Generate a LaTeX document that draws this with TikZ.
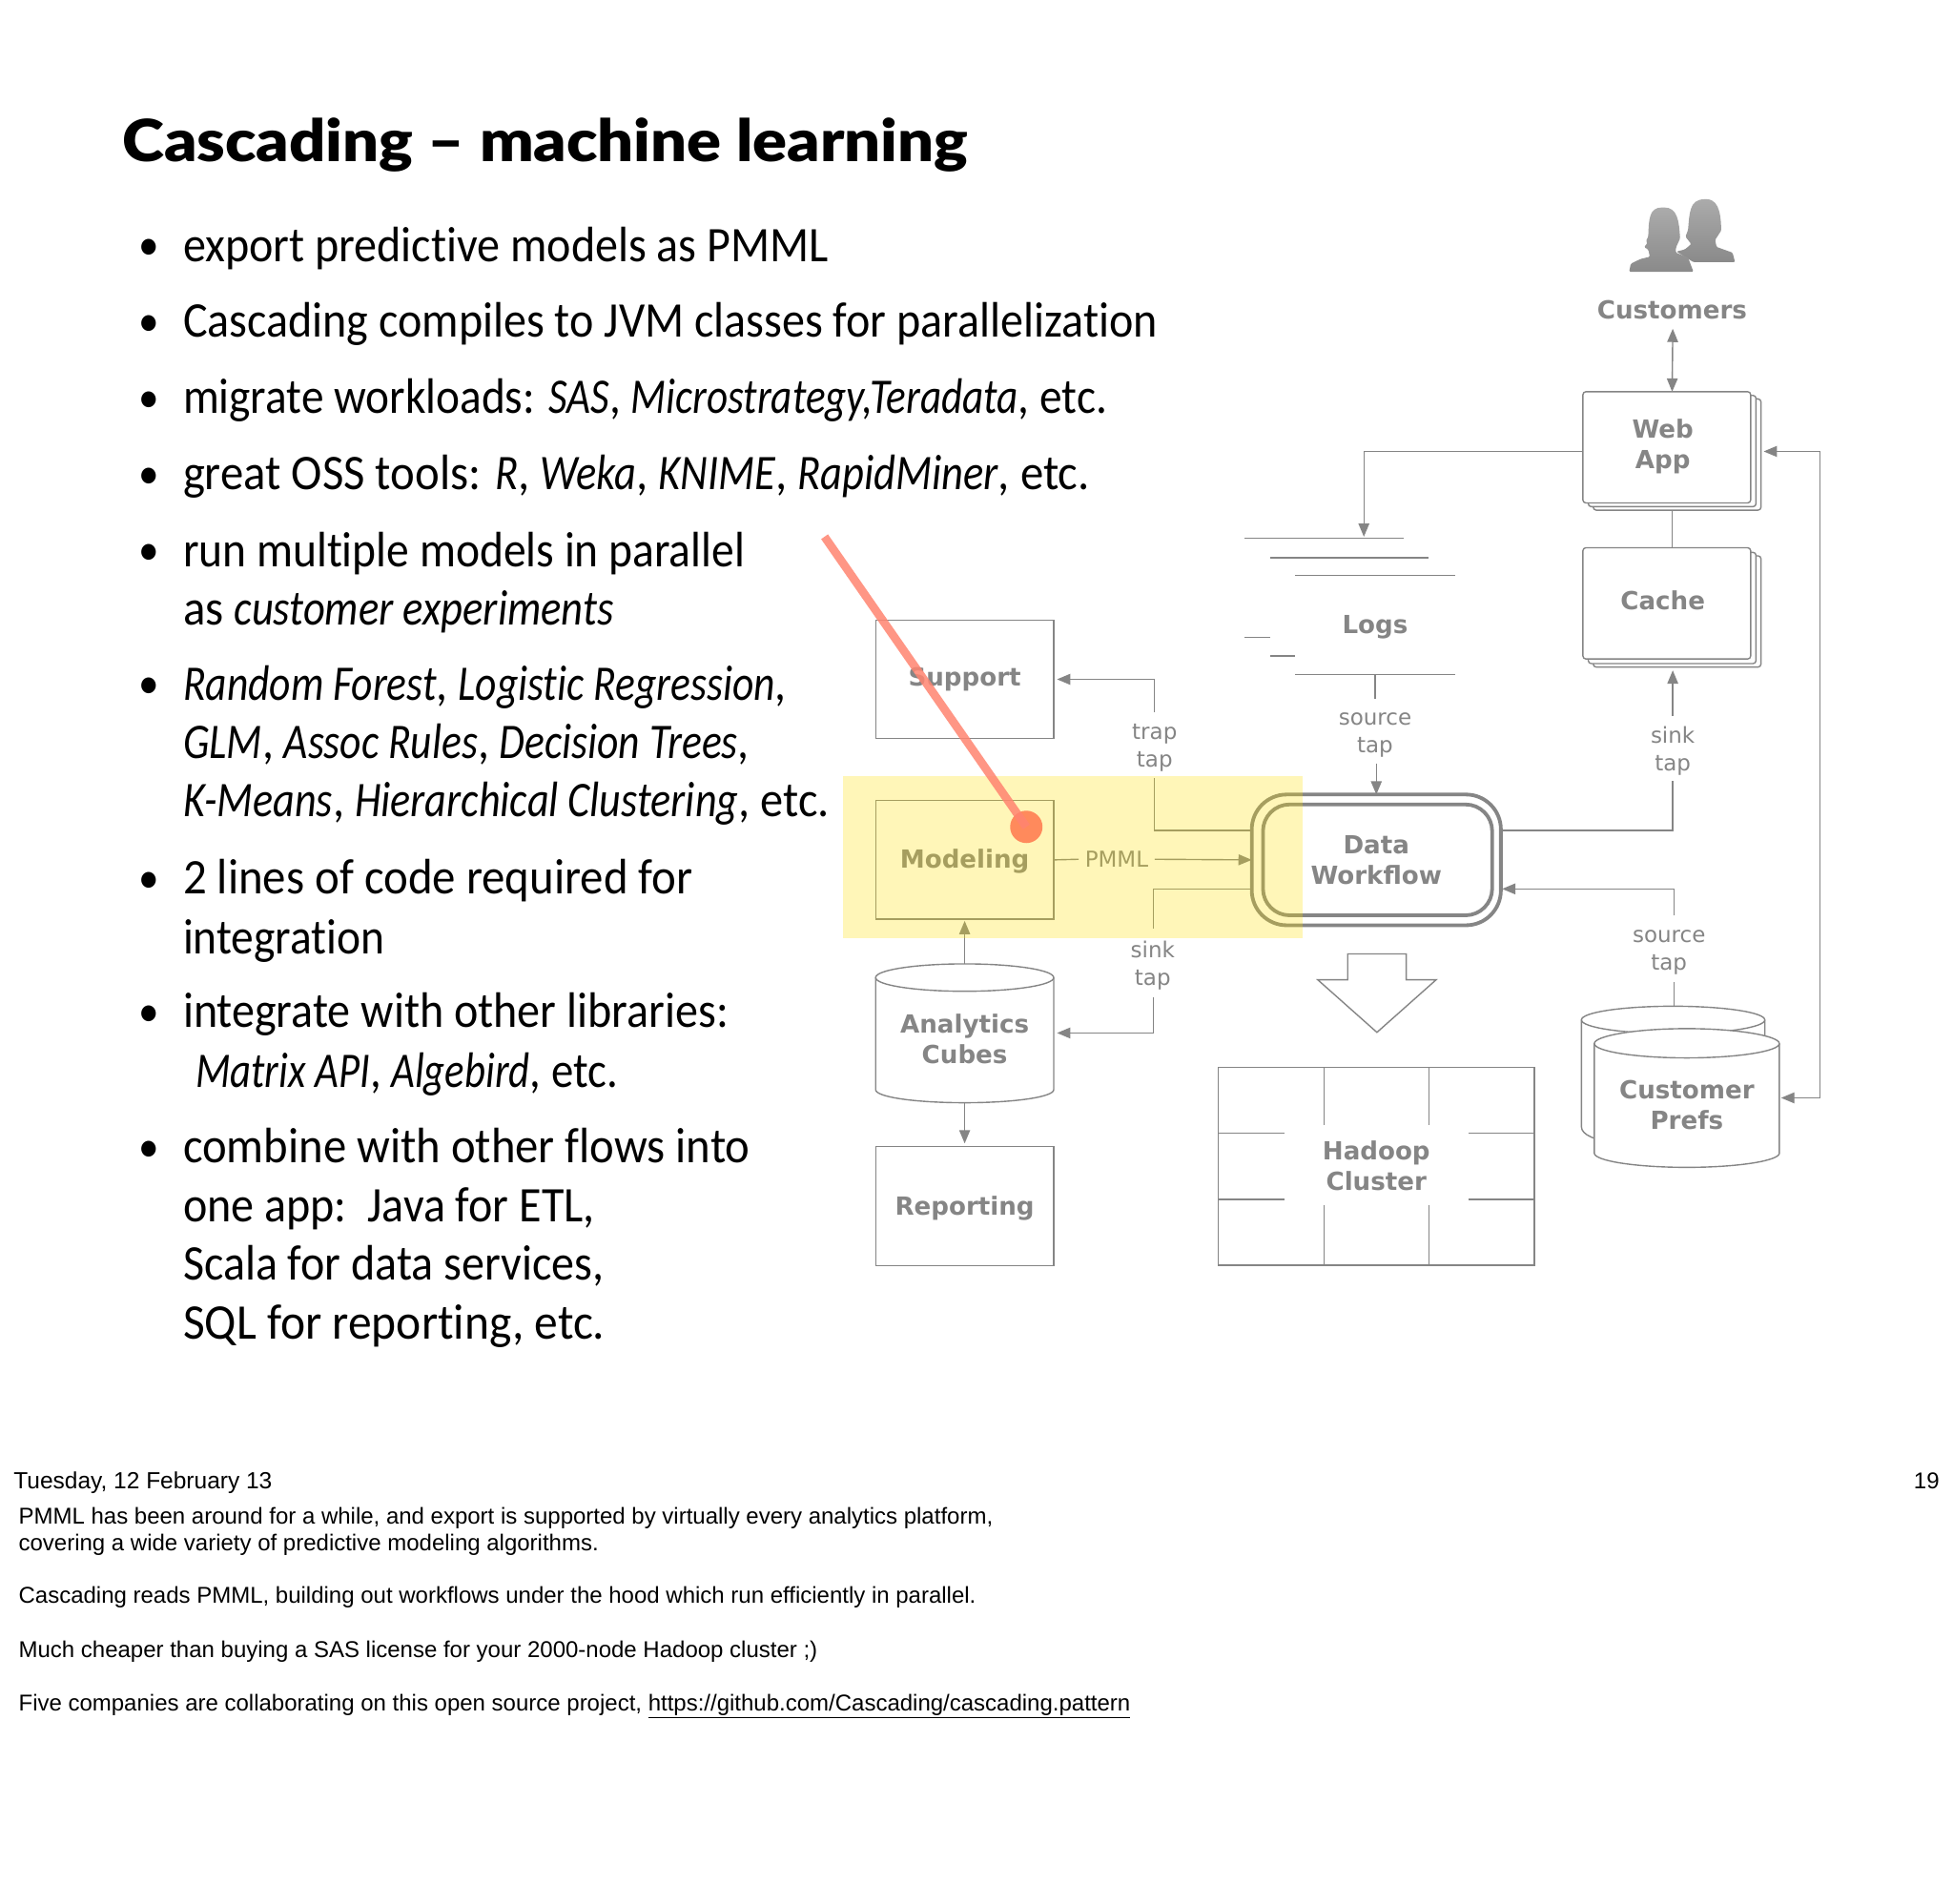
\documentclass[tikz,border=0pt]{standalone}
\usepackage{fontspec}
\usetikzlibrary{arrows.meta,calc}
\setmainfont{Carlito}[Ligatures=NoCommon,UprightFeatures={FakeStretch=0.92},ItalicFeatures={FakeStretch=0.84}]
\newfontfamily\djfont{DejaVu Sans}
\newfontfamily\helvfont{Liberation Sans}
\newfontfamily\titlefont{Lato Black}[FakeStretch=1.095]
\definecolor{dgray}{HTML}{858585}
\definecolor{overlayyellow}{HTML}{FFE100}
\definecolor{redline}{HTML}{FF8470}
\definecolor{reddot}{HTML}{FF8A5C}
\newcommand{\sx}[2]{\scalebox{#1}[1]{#2}}
\tikzset{
  x=0.75pt,y=-0.75pt,
  body/.style={anchor=base west,inner sep=0,outer sep=0,yshift=-0.75pt,font=\fontsize{30}{36}\selectfont,text=black},
  bull/.style={anchor=base,inner sep=0,font=\fontsize{27}{32}\selectfont,text=black},
  note/.style={anchor=base west,inner sep=0,outer sep=0,yshift=-0.5pt,font=\helvfont\fontsize{13.78}{16}\selectfont,text=black},
  boxlab/.style={font=\djfont\bfseries\fontsize{15}{18.4}\selectfont,text=dgray,align=center},
  box/.style={draw=dgray,line width=0.8pt,inner sep=0,outer sep=0,boxlab,minimum width=107.25pt,minimum height=71.5pt},
  plain/.style={inner sep=0,outer sep=0,boxlab},
  stack/.style={box,fill=white,rounded corners=1.8pt,minimum width=101pt,minimum height=67pt},
  taplab/.style={inner sep=0,outer sep=0,font=\djfont\fontsize{13.2}{16.7}\selectfont,text=dgray,align=center},
  conn/.style={draw=dgray,line width=0.8pt},
  arr/.style={conn,-{Triangle[length=8pt,width=6.5pt]}},
  darr/.style={conn,{Triangle[length=8pt,width=6.5pt]}-{Triangle[length=8pt,width=6.5pt]}},
  wf/.style={draw=dgray,line width=2.2pt,inner sep=0,outer sep=0},
  person/.style={top color=black!33,bottom color=black!46,draw=none,rounded corners=0.7pt},
}
\begin{document}
\begin{tikzpicture}
\useasboundingbox (0,0) rectangle (1568,1528.2);
\fill[white] (0,0) rectangle (1568,1528.2);

% title and bullets
\node[anchor=base west,inner sep=0,font=\titlefont\fontsize{35}{40}\selectfont] (title) at (98,130) {Cascading – machine learning};
\node[bull] (p1) at (120,209) {•};
\node[body] (b1) at (147,209) {export predictive models as PMML};
\node[bull] (p2) at (120,270) {•};
\node[body] (b2) at (147,270) {Cascading compiles to JVM classes for parallelization};
\node[bull] (p3) at (120,331) {•};
\node[body] (b3) at (147,331) {\sx{.984}{migrate workloads: \textit{SAS}, \textit{Microstrategy,Teradata}, etc.}};
\node[bull] (p4) at (120,392) {•};
\node[body] (b4) at (147,392) {\sx{1.014}{great OSS tools: \textit{R}, \textit{Weka}, \textit{KNIME}, \textit{RapidMiner}, etc.}};
\node[bull] (p5) at (120,454) {•};
\node[body] (b5) at (147,454) {\sx{.989}{run multiple models in parallel}};
\node[body] (b5b) at (147,501) {\sx{1.015}{as \textit{customer experiments}}};
\node[bull] (p6) at (120,561) {•};
\node[body] (b6) at (147,561) {\sx{.992}{\textit{Random Forest}, \textit{Logistic Regression},}};
\node[body] (b6b) at (147,608) {\sx{.993}{\textit{GLM}, \textit{Assoc Rules}, \textit{Decision Trees},}};
\node[body] (b6c) at (147,655) {\sx{1.006}{\textit{K-Means}, \textit{Hierarchical Clustering}, etc.}};
\node[bull] (p7) at (120,717) {•};
\node[body] (b7) at (147,717) {\sx{1.017}{2 lines of code required for}};
\node[body] (b7b) at (147,765) {\sx{.988}{integration}};
\node[bull] (p8) at (120,824) {•};
\node[body] (b8) at (147,824) {integrate with other libraries:};
\node[body] (b8b) at (157,872) {\sx{.974}{\textit{Matrix API}, \textit{Algebird}, etc.}};
\node[bull] (p9) at (120,933) {•};
\node[body] (b9) at (147,933) {\sx{1.013}{combine with other flows into}};
\node[body] (b9b) at (147,980) {one app:\ \ Java for ETL,};
\node[body] (b9c) at (147,1027) {Scala for data services,};
\node[body] (b9d) at (147,1074) {\sx{1.03}{SQL for reporting, etc.}};

% footer and notes
\node[note,font=\helvfont\fontsize{14.07}{16}\selectfont] (date) at (11,1195) {Tuesday, 12 February 13};
\node[note,anchor=base east] (page) at (1557,1195) {19};
\node[note] (n1) at (15,1223) {PMML has been around for a while, and export is supported by virtually every analytics platform,};
\node[note] (n2) at (15,1244.5) {covering a wide variety of predictive modeling algorithms.};
\node[note] (n3) at (15,1287) {Cascading reads PMML, building out workflows under the hood which run efficiently in parallel.};
\node[note] (n4) at (15,1330) {Much cheaper than buying a SAS license for your 2000-node Hadoop cluster ;)};
\node[note] (n5) at (15,1373) {Five companies are collaborating on this open source project, \underline{https://github.com/Cascading/cascading.pattern}};

% customers icon
\path[person] (1393,210.5) -- (1391,202.9) -- (1378.2,198.3) -- (1377,192.7) -- (1382,185)
  .. controls (1381.5,178) and (1382,160) .. (1369.3,160)
  .. controls (1356,160) and (1356.5,172) .. (1355.2,185)
  -- (1353.2,190) -- (1357.8,196) -- (1352.7,200.3) -- (1346,202) -- (1359.6,210.5) -- cycle;
\path[person] (1308,218.2) -- (1309.3,211.8) -- (1317,208) -- (1324.6,206.2) -- (1323.3,200.3) -- (1320,198.5) -- (1322.6,195.2) -- (1321.5,193.4) -- (1323.3,190.1)
  .. controls (1323.8,176) and (1324,166.6) .. (1335.3,166.6)
  .. controls (1347,166.6) and (1348,178) .. (1348.9,191.4)
  -- (1345.5,199) -- (1345.5,202.9) -- (1355.2,206.7) -- (1359.6,218.2) -- cycle;
\node[plain] (cust) at (1342.5,249) {Customers};

% web app and cache stacks
\node[stack] (web3) at (1346.5,365) {};
\node[stack] (web2) at (1342.5,362.2) {};
\node[stack] (web) at (1338.2,359.2) {};
\node[plain] (weblab) at (1335,358.5) {Web\\App};
\node[stack] (cache3) at (1346.5,491) {};
\node[stack] (cache2) at (1342.5,488.2) {};
\node[stack] (cache) at (1338.2,484.5) {};
\node[plain] (cachelab) at (1335,482) {Cache};

% logs
\node[plain] (logs) at (1104,504) {Logs};
\foreach \a/\b/\y in {999.5/1127/432.4,1020/1147/447.8,1040/1168/462,999.5/1020/512,1020/1040/526.6,1040/1168/541.6}
  \draw[conn] (\a,\y) -- (\b,\y);
\coordinate (logsbot) at (1104,541.6);
\coordinate (logstop) at (1095,431);

% left boxes
\node[box] (support) at (774.5,545.5) {Support};
\node[box] (modeling) at (774.5,690.5) {};
\node[plain] (modlab) at (774.5,692) {Modeling};
\node[box] (reporting) at (774.5,968.5) {};
\node[plain] (replab) at (774.5,970) {Reporting};

% analytics cubes
\node[plain,minimum width=107.25pt,minimum height=83pt] (cubes) at (774.5,829.5) {};
\node[plain] (cubeslab) at (774.5,834) {Analytics\\Cubes};
\draw[conn] (703,785) -- (703,875) .. controls (703,881) and (735,885.5) .. (774.5,885.5) .. controls (814,885.5) and (846,881) .. (846,875) -- (846,785);
\draw[conn] (774.5,785) ellipse [x radius=71.5,y radius=11];

% customer prefs
\draw[conn,fill=white] (1269.7,819) -- (1269.7,905) .. controls (1269.7,911) and (1280,916) .. (1300,918) -- (1417,918) -- (1417,819);
\draw[conn] (1343.3,819) ellipse [x radius=73.6,y radius=11];
\draw[conn,fill=white] (1280,838) -- (1280,926) .. controls (1280,932) and (1312,937.4) .. (1354.3,937.4) .. controls (1396,937.4) and (1428.6,932) .. (1428.6,926) -- (1428.6,838) .. controls (1428.6,832) and (1396,826) .. (1354.3,826) .. controls (1312,826) and (1280,832) .. (1280,838) -- cycle;
\draw[conn] (1280,838) .. controls (1280,844) and (1312,849.5) .. (1354.3,849.5) .. controls (1396,849.5) and (1428.6,844) .. (1428.6,838);
\node[plain] (prefs) at (1354.3,887) {Customer\\Prefs};
\coordinate (prefstop) at (1344,808);
\coordinate (prefsarrow) at (1430,881.6);

% data workflow
\node[wf,rounded corners=21pt,minimum width=150pt,minimum height=78.75pt] (dw) at (1105,690.5) {};
\node[wf,rounded corners=16pt,minimum width=138pt,minimum height=66.75pt,draw=dgray] (dwin) at (1106,690.5) {};
\node[plain] (dwlab) at (1105,690.5) {Data\\Workflow};

% big arrow
\draw[conn,fill=white] (1082,766) -- (1129,766) -- (1129,786.8) -- (1153,786.8) -- (1105.5,829) -- (1058,786.8) -- (1082,786.8) -- cycle;

% hadoop
\node[draw=dgray,line width=0.8pt,inner sep=0,outer sep=0,boxlab,minimum width=190.5pt,minimum height=119.25pt] (hadoop) at (1105,936.5) {Hadoop\\Cluster};
\foreach \x in {1063.2,1147.5}{
  \draw[conn] (\x,857) -- (\x,903.4);
  \draw[conn] (\x,967.4) -- (\x,1016);
}
\foreach \y in {910,963}{
  \draw[conn] (978,\y) -- (1031.6,\y);
  \draw[conn] (1179,\y) -- (1232,\y);
}

% labels on connectors
\node[taplab,minimum height=39.75pt,minimum width=30pt] (traptap) at (927,598.5) {};
\node[taplab] (traplab) at (927,600.5) {trap\\tap};
\node[taplab,minimum height=39pt,minimum width=30pt] (srctap) at (1104,587) {};
\node[taplab] (srclab) at (1104,590) {source\\tap};
\node[taplab,minimum height=39pt,minimum width=30pt] (sinktop) at (1343,601) {};
\node[taplab] (sinktoplab) at (1343,603) {sink\\tap};
\node[taplab,minimum height=41.25pt,minimum width=30pt] (sinklow) at (925.8,773.5) {};
\node[taplab] (sinklowlab) at (925.5,775.5) {sink\\tap};
\node[taplab,minimum height=40pt,minimum width=40pt] (srcright) at (1340,762) {};
\node[taplab] (srcrightlab) at (1340,765) {source\\tap};
\node[taplab,minimum width=45.75pt] (pmml) at (896.5,690) {PMML};

% connectors
\coordinate (dwtrap) at (1005,666.7);
\coordinate (dwsink) at (1005,713.8);
\coordinate (dwout) at (1205,666.7);
\coordinate (dwsrc) at (1206,713.8);
\coordinate (webr) at (1416,362.5);
\coordinate (rail) at (1461,362.5);
\coordinate (custarrow) at (1343,264);
\draw[darr] (custarrow) -- (web.north -| cust);
\draw[conn] (web3.south -| cust) -- (cache.north -| cust);
\draw[arr] (web.west |- webr) -| (logstop);
\draw[conn] (logsbot) -- (srctap.north);
\draw[arr] (srctap.south -| dw) -- (dw.north);
\draw[conn] (dwtrap) -| (traptap.south);
\draw[arr,shorten >=2pt] (traptap.north) |- (support.east);
\draw[conn] (dwout) -| (sinktop.south);
\draw[arr,shorten >=2pt] (sinktop.north) -- (cache3.south -| sinktop);
\draw[conn] (modeling.east) -- (pmml.west);
\draw[arr] (pmml.east) -- (dw.west);
\draw[conn] (dwsink) -| (sinklow.north);
\draw[arr,shorten >=2pt] (sinklow.south) |- (cubes.east);
\draw[conn] (prefstop) -- (prefstop |- srcright.south);
\draw[conn] (prefstop |- srcright.north) -- (dwsrc -| prefstop);
\draw[arr] (dwsrc -| prefstop) -- (dwsrc);
\draw[arr] (rail) -- (webr);
\draw[arr] (rail) |- (prefsarrow);
\draw[arr,shorten >=1pt] (modeling.south |- cubes.north) -- (modeling.south);
\draw[arr,shorten >=2pt] (774.5,885.5) -- (reporting.north);

% highlight overlay
\fill[overlayyellow,opacity=0.28] (677,623) rectangle (1046,753);

% annotation line
\node[circle,fill=reddot,minimum size=19.5pt,inner sep=0,outer sep=0] (dot) at (824,664) {};
\coordinate (redstart) at (662,431);
\draw[redline,line width=5pt,opacity=0.85] (redstart) -- (dot.center);
\end{tikzpicture}
\end{document}
